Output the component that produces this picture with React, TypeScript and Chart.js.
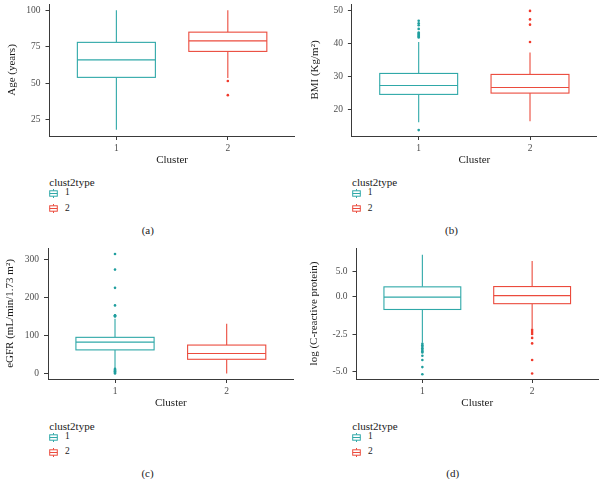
import React, { useEffect, useRef } from 'react';
import { Chart, registerables } from 'chart.js';

Chart.register(...registerables);

// ---------- shared categories ----------
const clusterPositions = [1, 2];
const clusterLabels = ['1', '2'];
const legendTitle = 'clust2type';
const xTitle = 'Cluster';

// ---------- (a) Age ----------
const ageTickValues = [25, 50, 75, 100];
const ageTickLabels = ['25', '50', '75', '100'];
const ageWhiskerLow = [18, 53.5];
const ageQ1 = [54, 71.8];
const ageMedian = [66, 79];
const ageQ3 = [78, 85];
const ageWhiskerHigh = [100, 100];
const ageOutliers1: number[] = [];
const ageOutliers2 = [51.5, 41.8];

// ---------- (b) BMI ----------
const bmiTickValues = [20, 30, 40, 50];
const bmiTickLabels = ['20', '30', '40', '50'];
const bmiWhiskerLow = [16, 16.3];
const bmiQ1 = [24.5, 24.9];
const bmiMedian = [27.2, 26.6];
const bmiQ3 = [30.9, 30.6];
const bmiWhiskerHigh = [40.5, 37.3];
const bmiOutliers1 = [41.9, 42.2, 42.5, 42.8, 43.1, 43.4, 44.5, 45.6, 46.2, 47, 13.6];
const bmiOutliers2 = [40.5, 45.8, 47.4, 50];

// ---------- (c) eGFR ----------
const egfrTickValues = [0, 100, 200, 300];
const egfrTickLabels = ['0', '100', '200', '300'];
const egfrWhiskerLow = [13, 0];
const egfrQ1 = [62, 37.3];
const egfrMedian = [82.4, 52.6];
const egfrQ3 = [95, 74.7];
const egfrWhiskerHigh = [144, 131];
const egfrOutliers1 = [150, 151, 152, 153, 179, 225, 273, 314, 12, 10, 8, 6, 4, 2, 0];
const egfrOutliers2: number[] = [];

// ---------- (d) log CRP ----------
const crpTickValues = [-5, -2.5, 0, 1.71];
const crpTickLabels = ['-5.0', '-2.5', '0.0', '5.0'];
const crpWhiskerLow = [-3.09, -2.15];
const crpQ1 = [-0.85, -0.46];
const crpMedian = [-0.02, 0.08];
const crpQ3 = [0.67, 0.69];
const crpWhiskerHigh = [2.82, 2.41];
const crpOutliers1 = [-3.15, -3.25, -3.35, -3.45, -3.55, -3.65, -3.74, -3.96, -4.24, -4.72, -5.2];
const crpOutliers2 = [-2.22, -2.37, -2.5, -2.76, -3.13, -4.24, -5.15];

// ---------- styles ----------
const FONT = "'Liberation Serif', 'DejaVu Serif', serif";
const lineColors = ['#2fa8a8', '#eb4b3d'];
const pointColors = ['#1f9e9e', '#f0392b'];
const axisColor = '#3a3a3a';
const tickTextColor = '#4d4d4d';
const titleColor = '#1a1a1a';
const BOX_HALF = 0.35;

type PanelCfg = {
  caption: string;
  yTitle: string;
  tickValues: number[];
  tickLabels: string[];
  low: number[]; q1: number[]; med: number[]; q3: number[]; high: number[];
  outliers: number[][];
  yMin: number; yMax: number;
  left: number; top: number; width: number; height: number;
  yAxisWidth: number; yTitlePad: number; rightPad: number;
  legendLeft: number; legendTop: number;
  capX: number; capY: number;
};

const panels: PanelCfg[] = [
  {
    caption: '(a)', yTitle: 'Age (years)', tickValues: ageTickValues, tickLabels: ageTickLabels,
    low: ageWhiskerLow, q1: ageQ1, med: ageMedian, q3: ageQ3, high: ageWhiskerHigh,
    outliers: [ageOutliers1, ageOutliers2], yMin: 13.8, yMax: 104.3,
    left: 0, top: 0, width: 301, height: 170, yAxisWidth: 49.5, yTitlePad: 5.4, rightPad: 6.3,
    legendLeft: 49.3, legendTop: 181.7, capX: 147.8, capY: 229.5,
  },
  {
    caption: '(b)', yTitle: 'BMI (Kg/m\u00B2)', tickValues: bmiTickValues, tickLabels: bmiTickLabels,
    low: bmiWhiskerLow, q1: bmiQ1, med: bmiMedian, q3: bmiQ3, high: bmiWhiskerHigh,
    outliers: [bmiOutliers1, bmiOutliers2], yMin: 11.8, yMax: 52.1,
    left: 301, top: 0, width: 301, height: 170, yAxisWidth: 50.9, yTitlePad: 7.9, rightPad: 5.2,
    legendLeft: 352, legendTop: 181.7, capX: 451.5, capY: 229.5,
  },
  {
    caption: '(c)', yTitle: 'eGFR (mL/min/1.73 m\u00B2)', tickValues: egfrTickValues, tickLabels: egfrTickLabels,
    low: egfrWhiskerLow, q1: egfrQ1, med: egfrMedian, q3: egfrQ3, high: egfrWhiskerHigh,
    outliers: [egfrOutliers1, egfrOutliers2], yMin: -14.5, yMax: 329.8,
    left: 0, top: 244, width: 301, height: 169, yAxisWidth: 48, yTitlePad: 3.4, rightPad: 7.3,
    legendLeft: 49.3, legendTop: 425.5, capX: 147.5, capY: 472.5,
  },
  {
    caption: '(d)', yTitle: 'log (C-reactive protein)', tickValues: crpTickValues, tickLabels: crpTickLabels,
    low: crpWhiskerLow, q1: crpQ1, med: crpMedian, q3: crpQ3, high: crpWhiskerHigh,
    outliers: [crpOutliers1, crpOutliers2], yMin: -5.52, yMax: 3.28,
    left: 301, top: 244, width: 301, height: 169, yAxisWidth: 55.5, yTitlePad: 6.2, rightPad: 0,
    legendLeft: 352.3, legendTop: 425.5, capX: 452.7, capY: 472.5,
  },
];

function makeBoxPlugin(p: PanelCfg) {
  return {
    id: 'boxplotMarks',
    beforeDatasetsDraw(chart: any) {
      const { ctx } = chart;
      const x = chart.scales.x;
      const y = chart.scales.y;
      ctx.save();
      clusterPositions.forEach((pos, i) => {
        const cx = x.getPixelForValue(pos);
        const xl = x.getPixelForValue(pos - BOX_HALF);
        const xr = x.getPixelForValue(pos + BOX_HALF);
        const yLow = y.getPixelForValue(p.low[i]);
        const yQ1 = y.getPixelForValue(p.q1[i]);
        const yMed = y.getPixelForValue(p.med[i]);
        const yQ3 = y.getPixelForValue(p.q3[i]);
        const yHigh = y.getPixelForValue(p.high[i]);
        ctx.strokeStyle = lineColors[i];
        ctx.lineWidth = 1.1;
        ctx.beginPath();
        ctx.moveTo(cx, yHigh); ctx.lineTo(cx, yQ3);
        ctx.moveTo(cx, yQ1); ctx.lineTo(cx, yLow);
        ctx.stroke();
        ctx.fillStyle = '#ffffff';
        ctx.fillRect(xl, yQ3, xr - xl, yQ1 - yQ3);
        ctx.strokeRect(xl, yQ3, xr - xl, yQ1 - yQ3);
        ctx.beginPath();
        ctx.moveTo(xl, yMed); ctx.lineTo(xr, yMed);
        ctx.stroke();
      });
      ctx.restore();
    },
  };
}

function BoxPanel({ p }: { p: PanelCfg }) {
  const ref = useRef<HTMLCanvasElement>(null);
  useEffect(() => {
    if (!ref.current) return;
    const chart = new Chart(ref.current, {
      type: 'scatter',
      data: {
        datasets: clusterPositions.map((pos, i) => ({
          label: clusterLabels[i],
          data: p.outliers[i].map((v) => ({ x: pos, y: v })),
          pointRadius: 1.3,
          pointBorderWidth: 0,
          pointBackgroundColor: pointColors[i],
          borderColor: pointColors[i],
          backgroundColor: pointColors[i],
        })),
      },
      options: {
        responsive: false,
        maintainAspectRatio: false,
        animation: false,
        devicePixelRatio: 1,
        events: [],
        layout: { padding: { top: 0, left: 0, bottom: 0, right: p.rightPad } },
        plugins: { legend: { display: false }, tooltip: { enabled: false } },
        scales: {
          x: {
            type: 'linear',
            min: 0.4,
            max: 2.6,
            afterBuildTicks: (s: any) => { s.ticks = clusterPositions.map((v) => ({ value: v })); },
            afterFit: (s: any) => { s.height = 34; s.paddingLeft = 0; s.paddingRight = 0; },
            ticks: {
              autoSkip: false, maxRotation: 0, padding: 3,
              color: tickTextColor, font: { family: FONT, size: 9.5 },
              callback: (v: any) => clusterLabels[clusterPositions.indexOf(Number(v))],
            },
            grid: { display: true, drawOnChartArea: false, drawTicks: true, tickLength: 4, color: axisColor, lineWidth: 1 },
            border: { display: true, color: axisColor, width: 1 },
            title: { display: true, text: xTitle, color: titleColor, font: { family: FONT, size: 11 }, padding: { top: 0, bottom: 3.5 } },
          },
          y: {
            type: 'linear',
            min: p.yMin,
            max: p.yMax,
            afterBuildTicks: (s: any) => { s.ticks = p.tickValues.map((v) => ({ value: v })); },
            afterFit: (s: any) => { s.width = p.yAxisWidth; s.paddingTop = 0; s.paddingBottom = 0; },
            ticks: {
              autoSkip: false, padding: 5,
              color: tickTextColor, font: { family: FONT, size: 9.5 },
              callback: (v: any) => p.tickLabels[p.tickValues.indexOf(Number(v))],
            },
            grid: { display: true, drawOnChartArea: false, drawTicks: true, tickLength: 4, color: axisColor, lineWidth: 1 },
            border: { display: true, color: axisColor, width: 1 },
            title: { display: true, text: p.yTitle, color: titleColor, font: { family: FONT, size: 11 }, padding: { top: p.yTitlePad, bottom: 0 } },
          },
        },
      },
      plugins: [makeBoxPlugin(p)],
    } as any);
    return () => chart.destroy();
  }, [p]);
  return (
    <canvas
      ref={ref}
      width={p.width}
      height={p.height}
      style={{ position: 'absolute', left: p.left, top: p.top, width: p.width, height: p.height, display: 'block' }}
    />
  );
}

function KeyGlyph({ color }: { color: string }) {
  return (
    <svg width={9} height={9} style={{ display: 'block' }}>
      <line x1={4.5} y1={0} x2={4.5} y2={1.8} stroke={color} strokeWidth={1} />
      <rect x={0.7} y={1.8} width={7.6} height={5.4} fill="#fff" stroke={color} strokeWidth={1} />
      <line x1={0.7} y1={4.5} x2={8.3} y2={4.5} stroke={color} strokeWidth={1} />
      <line x1={4.5} y1={7.2} x2={4.5} y2={9} stroke={color} strokeWidth={1} />
    </svg>
  );
}

function textStyle(left: number, cy: number, size: number, center = false): React.CSSProperties {
  return {
    position: 'absolute',
    left,
    top: cy,
    transform: center ? 'translate(-50%, -50%)' : 'translate(0, -50%)',
    fontFamily: FONT,
    fontSize: size,
    lineHeight: 1,
    color: titleColor,
    whiteSpace: 'nowrap',
  };
}

function LegendBlock({ p }: { p: PanelCfg }) {
  return (
    <>
      <div style={textStyle(p.legendLeft, p.legendTop, 11)}>{legendTitle}</div>
      {clusterLabels.map((lab, i) => {
        const cy = p.legendTop + 11.5 + i * 15.3;
        return (
          <React.Fragment key={lab}>
            <div style={{ position: 'absolute', left: p.legendLeft, top: cy - 4.5 }}>
              <KeyGlyph color={lineColors[i]} />
            </div>
            <div style={textStyle(p.legendLeft + 15.7, cy, 9.5)}>{lab}</div>
          </React.Fragment>
        );
      })}
      <div style={textStyle(p.capX, p.capY, 11, true)}>{p.caption}</div>
    </>
  );
}

export default function App() {
  return (
    <div style={{ position: 'fixed', left: 0, top: 0, width: 602, height: 479, background: '#ffffff', overflow: 'hidden' }}>
      {panels.map((p) => (
        <React.Fragment key={p.caption}>
          <BoxPanel p={p} />
          <LegendBlock p={p} />
        </React.Fragment>
      ))}
    </div>
  );
}
